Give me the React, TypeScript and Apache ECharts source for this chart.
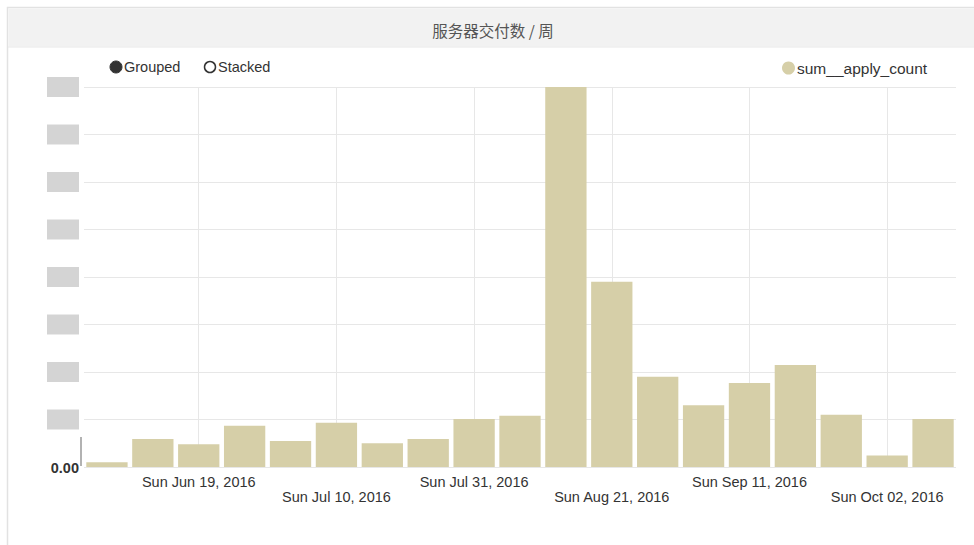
import React, { useEffect, useRef } from "react";
import * as echarts from "echarts";

const weeks = [
  "Sun Jun 05, 2016", "Sun Jun 12, 2016", "Sun Jun 19, 2016", "Sun Jun 26, 2016",
  "Sun Jul 03, 2016", "Sun Jul 10, 2016", "Sun Jul 17, 2016", "Sun Jul 24, 2016",
  "Sun Jul 31, 2016", "Sun Aug 07, 2016", "Sun Aug 14, 2016", "Sun Aug 21, 2016",
  "Sun Aug 28, 2016", "Sun Sep 04, 2016", "Sun Sep 11, 2016", "Sun Sep 18, 2016",
  "Sun Sep 25, 2016", "Sun Oct 02, 2016", "Sun Oct 09, 2016",
];
const applyCount = [
  1.0, 5.9, 4.8, 8.7, 5.5, 9.3, 5.0, 5.9, 10.1, 10.8,
  80.0, 39.0, 19.0, 13.0, 17.7, 21.5, 11.0, 2.4, 10.1,
];
const seriesName = "sum__apply_count";
const titleText = "服务器交付数 / 周";
const controlLabels = ["Grouped", "Stacked"];

const BAR = "#d6cfa8";
const GRID = "#e7e7e7";
const FONT = "'Liberation Sans', Arial, sans-serif";

const showTick = (idx: number) => idx % 3 === 2;

export default function App() {
  const ref = useRef<HTMLDivElement>(null);
  useEffect(() => {
    document.body.style.margin = "0";
    const chart = echarts.init(ref.current!, null, { renderer: "svg" });
    chart.setOption({
      animation: false,
      backgroundColor: "#ffffff",
      textStyle: { fontFamily: FONT },
      graphic: [
        { type: "rect", z: -10, shape: { x: 7.5, y: 7.5, width: 980, height: 560 }, style: { fill: "#fff", stroke: "#e2e2e2", lineWidth: 1.5 } },
        { type: "rect", z: -9, shape: { x: 8.5, y: 8.5, width: 980, height: 38 }, style: { fill: "#f2f2f2" } },
        { type: "line", z: -9, shape: { x1: 8, y1: 47, x2: 974, y2: 47 }, style: { stroke: "#e8e8e8", lineWidth: 1 } },
        { type: "text", x: 493, y: 30, style: { text: titleText, fill: "#555", fontSize: 15.5, fontFamily: "'Noto Sans CJK SC', sans-serif", textAlign: "center", textVerticalAlign: "middle" } },
        { type: "circle", shape: { cx: 116, cy: 67, r: 6 }, style: { fill: "#333", stroke: "#333", lineWidth: 1 } },
        { type: "text", x: 124, y: 67, style: { text: controlLabels[0], fill: "#333", fontSize: 14.5, fontFamily: FONT, textVerticalAlign: "middle" } },
        { type: "circle", shape: { cx: 210, cy: 67, r: 5.5 }, style: { fill: "#fff", stroke: "#333", lineWidth: 1.5 } },
        { type: "text", x: 218, y: 67, style: { text: controlLabels[1], fill: "#333", fontSize: 14.5, fontFamily: FONT, textVerticalAlign: "middle" } },
        { type: "line", shape: { x1: 81, y1: 437, x2: 81, y2: 466 }, style: { stroke: "#999", lineWidth: 1.5 } },
      ],
      legend: {
        data: [seriesName],
        left: 777,
        top: 55,
        icon: "circle",
        itemWidth: 13,
        itemHeight: 13,
        itemGap: 4,
        textStyle: { fontSize: 15.5, color: "#333", fontFamily: FONT, padding: [0, 0, 0, -3] },
      },
      grid: { left: 84, right: 18, top: 87, bottom: 78, containLabel: false },
      xAxis: {
        type: "category",
        data: weeks,
        axisLine: { show: false },
        axisTick: { show: false },
        splitLine: {
          show: true,
          interval: (idx: number) => showTick(idx),
          alignWithLabel: true,
          lineStyle: { color: GRID, width: 1 },
        } as any,
        axisLabel: {
          interval: (idx: number) => showTick(idx),
          margin: 7,
          fontSize: 14.5,
          color: "#333",
          fontFamily: FONT,
          lineHeight: 15,
          formatter: (v: string, idx: number) => (idx % 6 === 2 ? v : "\n" + v),
        },
      },
      yAxis: {
        type: "value",
        min: 0,
        max: 80,
        interval: 10,
        axisLine: { show: false },
        axisTick: { show: false },
        splitLine: { lineStyle: { color: GRID, width: 1 } },
        axisLabel: {
          margin: 5,
          formatter: (v: number) => (v === 0 ? "{z|0.00}" : "{b|" + v.toFixed(2) + "}"),
          rich: {
            z: { fontSize: 14.5, fontWeight: "bold", color: "#333", fontFamily: FONT, padding: [2, 0, 0, 0] },
            b: { fontSize: 12, color: "rgba(0,0,0,0)", backgroundColor: "#d4d4d4", width: 32, height: 20, fontFamily: FONT },
          },
        },
      },
      series: [
        {
          name: seriesName,
          type: "bar",
          data: applyCount,
          barCategoryGap: "10%",
          itemStyle: { color: BAR },
        },
      ],
    });
    return () => chart.dispose();
  }, []);
  return <div ref={ref} style={{ width: 974, height: 545 }} />;
}
